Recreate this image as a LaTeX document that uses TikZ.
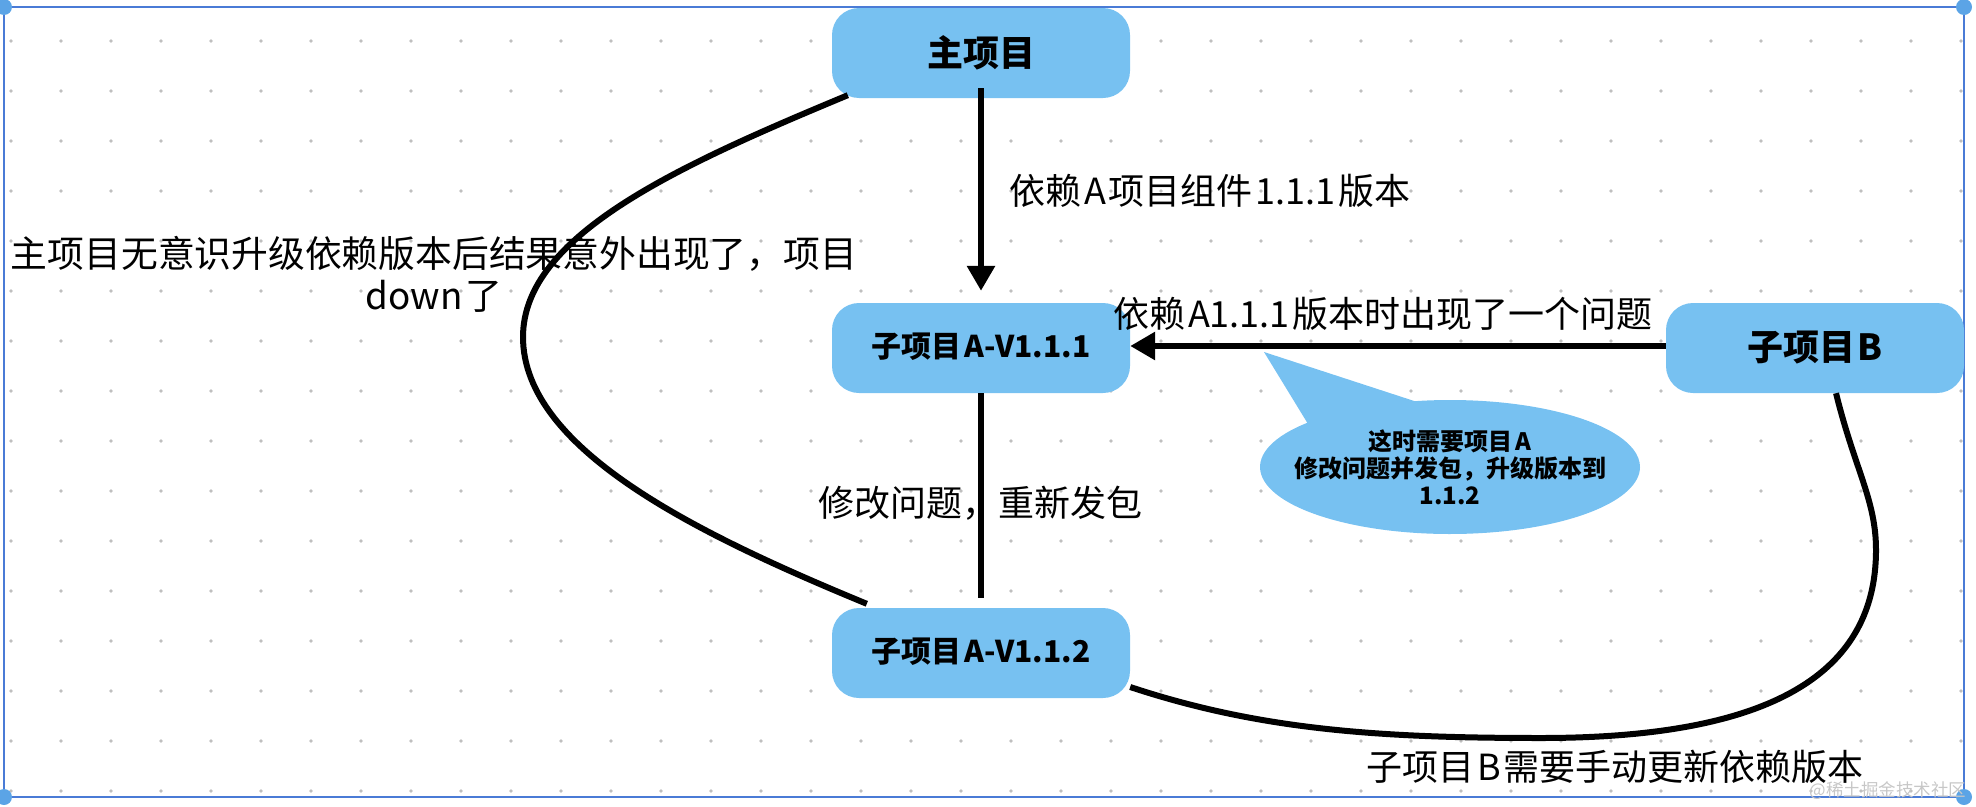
\documentclass[tikz,border=0pt]{standalone}
\usepackage{fontspec}
\setmainfont{Noto Sans CJK SC}
\usetikzlibrary{shapes.callouts,arrows.meta}
\definecolor{boxblue}{HTML}{77C1F1}
\definecolor{framblue}{HTML}{4A7BD6}
\definecolor{handleblue}{HTML}{5BA4E6}
\newcommand{\tightgap}{\hspace{3pt}}
\tikzset{
  pkgbox/.style={fill=boxblue,rounded corners=27pt,minimum width=298pt,minimum height=90pt,inner sep=0pt},
  link/.style={line width=6pt},
  linktip/.style={link,-{Triangle[length=25pt,width=27pt]}},
  label/.style={font=\fontsize{36}{42}\selectfont,align=center,inner sep=0pt},
  griddot/.style={fill=black!25},
  handle/.style={fill=handleblue,inner sep=0pt,minimum size=16pt,circle}
}
\begin{document}
\begin{tikzpicture}[x=1pt,y=-1pt]
    \useasboundingbox (0,0) rectangle (1976,806);
    \foreach \i in {0,...,39}
      \foreach \j in {0,...,15}
        \fill[griddot] ({11+50*\i},{41+50*\j}) circle (1.8pt);
    \draw[framblue,line width=2.5pt] (4,7) rectangle (1964,797);
    \node[handle] (hnw) at (4,7) {};
    \node[handle] (hsw) at (4,797) {};
    \node[handle] (hne) at (1964,7) {};
    \node[handle] (hse) at (1964,797) {};
    \node[pkgbox,font=\fontsize{36}{40}\selectfont\bfseries] (main) at (981,53) {主项目};
    \node[pkgbox,font=\fontsize{30}{36}\selectfont\bfseries] (av1) at (981,348) {\raisebox{5pt}{子项目\tightgap A-V1.1.1}};
    \node[pkgbox,font=\fontsize{30}{36}\selectfont\bfseries] (av2) at (981,653) {\raisebox{5pt}{子项目\tightgap A-V1.1.2}};
    \node[pkgbox,font=\fontsize{36}{40}\selectfont\bfseries] (subb) at (1815,348) {子项目\tightgap B};
    \node[ellipse callout,fill=boxblue,minimum width=380pt,minimum height=134pt,inner sep=0pt,
      callout absolute pointer={(1264,352)},callout pointer arc=38] (note) at (1450,467) {};
    \node[font=\fontsize{24}{27}\selectfont\bfseries,align=center] (notetext) at (note.center) {这时需要项目\tightgap A\\修改问题并发包，升级版本到\\1.1.2};
    \draw[linktip,shorten <=-10pt,shorten >=12pt] (main.south) -- (av1.north);
    \draw[link,shorten >=10pt] (av1.south) -- (av2.north);
    \draw[linktip] ([yshift=2pt]subb.west) -- ([yshift=2pt]av1.east);
    \draw[link] ([xshift=16pt,yshift=3pt]main.south west) .. controls (680,165) and (523,235) .. (523,337)
      .. controls (523,450) and (700,535) .. ([xshift=35pt,yshift=4pt]av2.north west);
    \draw[link] ([xshift=21pt]subb.south) .. controls (1855,470) and (1876,500) .. (1876,550)
      .. controls (1876,680) and (1760,738) .. (1541,738)
      .. controls (1380,738) and (1260,730) .. ([yshift=-34pt]av2.east);
    \node[label] (lbldep) at (1210,191) {依赖\tightgap A\tightgap 项目组件\tightgap 1.1.1\tightgap 版本};
    \node[label] (lblissue) at (1383,314) {依赖\tightgap A1.1.1\tightgap 版本时出现了一个问题};
    \node[label] (lblfix) at (980,503) {修改问题，重新发包};
    \node[label,font=\fontsize{36.8}{42}\selectfont] (lbldown) at (434,274) {主项目无意识升级依赖版本后结果意外出现了，项目\\down\tightgap 了};
    \node[label] (lblmanual) at (1615,767) {子项目\tightgap B\tightgap 需要手动更新依赖版本};
    \node[font=\fontsize{17.5}{22}\selectfont,text=black!22,inner sep=0pt] (mark) at (1888,791) {@稀土掘金技术社区};
\end{tikzpicture}
\end{document}
